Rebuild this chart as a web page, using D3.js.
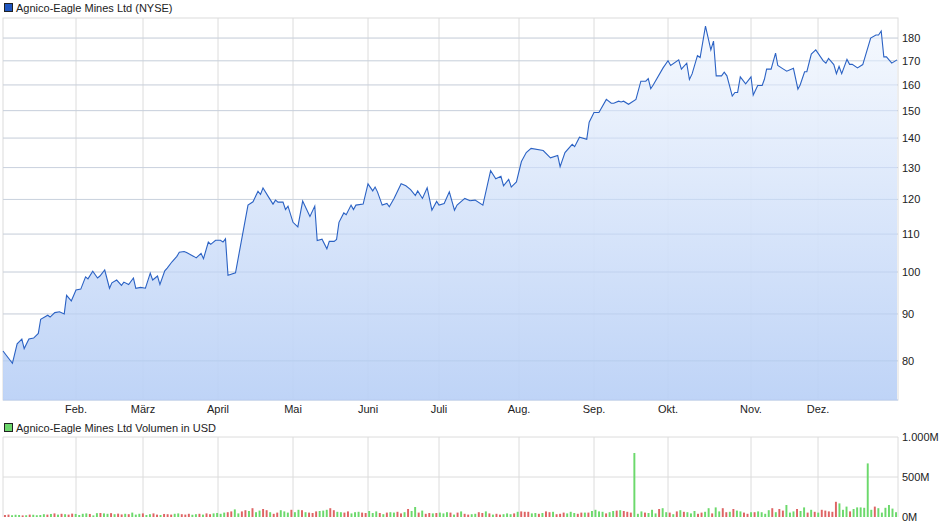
<!DOCTYPE html>
<html><head><meta charset="utf-8">
<script src="https://cdn.jsdelivr.net/npm/d3@7"></script>
<style>body{margin:0;background:#fff}svg{font-family:"Liberation Sans",Arial,sans-serif}</style>
</head><body><svg id="c" width="940" height="526"></svg>
<script>
const monthStartDays=[1,32,60,91,121,152,182,213,244,274,305,335,365];
const monthLabels=["Feb.","März","April","Mai","Juni","Juli","Aug.","Sep.","Okt.","Nov.","Dez."];
const priceTicks=[80,90,100,110,120,130,140,150,160,170,180];
const volTicks=[0,500,1000];
const volTickLabels=["0M","500M","1.000M"];
const days=[1,5,7,9,10,12,14,16,17,20,21,23,25,27,28,30,
32,34,36,37,39,41,42,44,46,47,49,51,52,54,56,57,59,
61,63,64,66,67,69,70,72,74,75,77,78,81,82,84,85,87,88,90,
92,93,94,95,98,103,105,107,108,109,111,113,114,115,117,118,119,
121,123,125,128,130,131,133,135,136,138,139,140,142,143,145,146,147,150,
152,154,155,156,158,160,161,163,166,168,170,172,173,175,177,179,181,
182,184,186,188,189,192,194,196,199,202,204,206,207,209,210,
212,214,216,218,223,226,229,230,232,235,236,238,241,242,
244,246,249,251,252,254,255,256,258,261,263,265,266,267,268,272,
274,275,278,279,281,282,283,285,286,288,290,291,292,294,295,296,298,299,300,301,303,
305,306,308,310,311,312,314,316,317,319,321,324,326,327,329,330,332,334,
337,338,339,341,342,343,344,346,347,348,350,352,355,357,358,359,360,361,363,365];
const closes=[82,79.5,83.5,84.5,82.5,84.5,84.7,85.7,88.8,89.7,89.3,90.3,90.5,90,94.3,93,
95.6,95.8,98.8,98.3,100.2,98.5,99,100.5,96,97.3,98,96.7,97.5,96.9,98.5,96,96.2,
96,99.7,98,99,96.9,100.3,101,102.6,104,105.1,105.3,105,104,103.6,104.8,103.4,107.8,107.2,108.3,
108.3,107.8,108.7,99.2,99.8,118.3,119.3,122.5,121.5,123.5,121,118.6,119.8,119.2,119.2,117,118,
113.3,112,119.5,115,118,108.2,108.6,106,108,108,108.5,113.3,116,115.5,118.3,117,118.3,118.6,
124.8,122.6,123.8,122.3,118.3,118.8,117.8,120.3,124.8,124.2,123,121.2,122.6,120.3,123.6,116.8,119.4,
118.3,118.8,122.3,116.8,118.3,120.3,119.6,119.8,118.3,129,126.4,127.2,124.2,126.2,123.8,
125.4,132,135,136.4,135.7,133.2,134,130.3,135,137.8,137,140.3,139.6,145.7,
149.3,149.3,154.3,152.8,152.8,153.6,153.3,153.6,152.4,154.3,161.5,161.5,162.6,158.5,160,167,
170,168,170.4,166.5,169,162.2,164.5,172.2,171.4,185.5,174.7,178.6,163.7,163.7,165.2,163.7,155.6,157,157,163.3,160.4,
163.3,156,159.8,159.8,162.3,166.5,166.5,173.3,168,166.8,165.6,166.8,158.3,160,165.4,165.4,172.9,174.7,
170,169,171,168.4,164.6,167.6,164.6,170.6,168.5,168.5,167,168.4,180,181.4,181.4,183.2,171.7,171.7,169,170.4];
const volumes=[25,30,22,28,25,20,22,30,28,22,25,35,30,38,45,30,40,35,30,42,38,
25,40,45,38,20,48,50,45,40,48,35,42,32,40,35,55,30,40,45,
25,35,45,30,25,38,35,30,40,45,35,30,40,28,35,40,30,45,35,45,50,
40,55,60,70,95,45,70,85,75,110,60,80,100,85,60,40,55,85,70,55,90,
60,90,85,60,55,50,70,75,80,90,110,85,65,60,55,70,45,60,65,55,50,
75,50,70,50,35,55,60,55,65,45,60,100,75,125,55,80,40,50,45,50,55,
45,60,55,30,55,70,40,30,35,40,60,50,70,45,30,40,30,35,45,35,45,65,
70,65,65,45,50,40,50,70,60,65,35,40,55,45,65,50,40,55,55,55,75,
90,70,65,45,60,75,80,85,75,65,55,800,40,70,55,50,90,45,100,110,60,
55,35,70,85,65,60,45,75,40,55,65,110,45,120,70,110,60,65,100,80,70,55,40,
60,60,70,60,40,85,110,60,100,80,150,55,70,100,75,120,55,90,65,55,
90,80,70,65,190,170,90,130,70,100,120,120,115,670,90,130,110,55,115,150,105,60];
const volDir="rrgggrgrggggrgrgrgrrg"+"gggrggrggrgrrgrgggr"+"ggrrgrrrggrrrggrgrrgg"+"ggrrggrrgrggrrgrrgggr"+"ggrgrrrgggrrggrrgggrr"+"gggrgrggrrgrggrgrrgrg"+"ggrgrgrrggrrgrgrrgggrg"+"rrrggrgrrgrrrgggrrgrg"+"gggrggrgrrrgggrgggrgg"+"rgrgrgggrrggrggrrgrggrr"+"grggggrgrrgggrggrgrg"+"rrrrrgggrggggggrgggggg";

const svg=d3.select("#c");
const L=3,R=898,T=18,B=400,VT=437,VB=517;
const x=d3.scaleLinear().domain(monthStartDays).range([3,76,143,218,293,368,439,519,594,668,751,818,897]);
const y=d3.scaleLog().domain([72.5,189.3]).range([B,T]);
const defs=svg.append("defs");
const g=defs.append("linearGradient").attr("id","gr").attr("x1",0).attr("x2",0).attr("y1",0).attr("y2",1);
g.append("stop").attr("offset","0%").attr("stop-color","#f4f8fe");
g.append("stop").attr("offset","100%").attr("stop-color","#b9d0f6");
const grid="#dcdcdc";
svg.append("rect").attr("x",L).attr("y",T).attr("width",R-L).attr("height",B-T).attr("fill","#fff").attr("stroke",grid);
priceTicks.forEach(v=>svg.append("line").attr("x1",L).attr("x2",R).attr("y1",y(v)).attr("y2",y(v)).attr("stroke",grid));
monthStartDays.slice(1,12).forEach(d=>{
  svg.append("line").attr("x1",x(d)).attr("x2",x(d)).attr("y1",T).attr("y2",B).attr("stroke",grid);
  svg.append("line").attr("x1",x(d)).attr("x2",x(d)).attr("y1",VT).attr("y2",VB).attr("stroke",grid);
});
const pts=days.map((d,i)=>[d,closes[i]]);
svg.append("path").datum(pts).attr("fill","url(#gr)").attr("opacity",0.92)
 .attr("d",d3.area().x(d=>x(d[0])).y0(B).y1(d=>y(d[1])));
priceTicks.forEach(v=>svg.append("line").attr("x1",L).attr("x2",R).attr("y1",y(v)).attr("y2",y(v)).attr("stroke","#a9bfe3").attr("stroke-opacity",0.35));
svg.append("path").datum(pts).attr("fill","none").attr("stroke","#2b62c4").attr("stroke-width",1.1)
 .attr("d",d3.line().x(d=>x(d[0])).y(d=>y(d[1])));
svg.append("line").attr("x1",L).attr("x2",R).attr("y1",B).attr("y2",B).attr("stroke","#b8cdf0");
priceTicks.forEach(v=>svg.append("text").attr("x",902).attr("y",y(v)+4).attr("font-size",11).attr("fill","#222").text(v));
monthLabels.forEach((t,i)=>svg.append("text").attr("x",x(monthStartDays[i+1])).attr("y",413).attr("text-anchor","middle").attr("font-size",11).attr("fill","#222").text(t));
// legends
svg.append("rect").attr("x",4.5).attr("y",3.5).attr("width",8).attr("height",8).attr("fill","#1f56c0").attr("stroke","#222");
svg.append("text").attr("x",16).attr("y",11.5).attr("font-size",11).attr("fill","#222").text("Agnico-Eagle Mines Ltd (NYSE)");
svg.append("rect").attr("x",4.5).attr("y",423.5).attr("width",8).attr("height",8).attr("fill","#6bd66b").attr("stroke","#222");
svg.append("text").attr("x",16).attr("y",431.5).attr("font-size",11).attr("fill","#222").text("Agnico-Eagle Mines Ltd Volumen in USD");
// volume
const vy=d3.scaleLinear().domain([0,1000]).range([VB,VT]);
svg.append("line").attr("x1",L).attr("x2",R).attr("y1",VT).attr("y2",VT).attr("stroke",grid);
svg.append("line").attr("x1",L).attr("x2",R).attr("y1",vy(500)).attr("y2",vy(500)).attr("stroke",grid);
svg.append("line").attr("x1",L).attr("x2",L).attr("y1",VT).attr("y2",VB).attr("stroke",grid);
svg.append("line").attr("x1",R).attr("x2",R).attr("y1",VT).attr("y2",VB).attr("stroke",grid);
const xb=d3.scaleBand().domain(d3.range(volumes.length)).range([L+1,R-1]).paddingInner(0.45);
svg.append("g").selectAll("rect").data(volumes).join("rect")
 .attr("x",(d,i)=>xb(i)).attr("width",xb.bandwidth()).attr("y",d=>vy(d)).attr("height",d=>VB-vy(d))
 .attr("fill",(d,i)=>(volDir[i]||"g")==="g"?"#6cd96c":"#de6464");
volTicks.forEach((v,i)=>svg.append("text").attr("x",902).attr("y",vy(v)+4+(i==0?0:0)).attr("font-size",11).attr("fill","#222").text(volTickLabels[i]));
</script></body></html>
